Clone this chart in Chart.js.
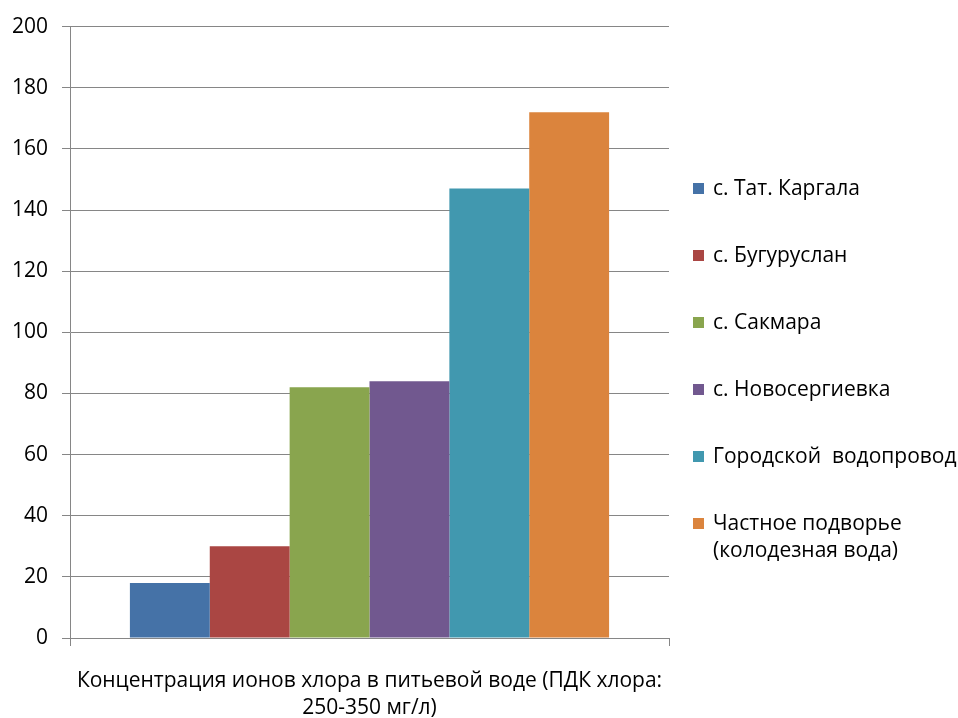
<!DOCTYPE html>
<html>
<head>
<meta charset="utf-8">
<script src="https://cdn.jsdelivr.net/npm/chart.js@4"></script>
<style>
  html, body { margin: 0; padding: 0; background: #fff; }
  #wrap { position: relative; width: 958px; height: 718px; }
  #legend { position: absolute; left: 693px; top: 174px; font-family: "Open Sans", sans-serif; font-size: 21px; color: #000; }
  .item { display: flex; align-items: flex-start; height: 67px; line-height: 27px; }
  .box { width: 11px; height: 11px; margin-top: 9px; margin-right: 9px; flex: none; }
</style>
</head>
<body>
<div id="wrap">
  <canvas id="chart" width="958" height="718"></canvas>
  <div id="legend"></div>
</div>
<script>
const categories = [['Концентрация ионов хлора в питьевой воде (ПДК хлора:', '250-350 мг/л)']];
const seriesNames = [
  'с. Тат. Каргала',
  'с. Бугуруслан',
  'с. Сакмара',
  'с. Новосергиевка',
  'Городской  водопровод',
  'Частное подворье\n(колодезная вода)'
];
const seriesValues = [18, 30, 82, 84, 147, 172];
const seriesColors = ['#4572A7', '#AA4643', '#89A54E', '#71588F', '#4198AF', '#DB843D'];
const yTicks = [0, 20, 40, 60, 80, 100, 120, 140, 160, 180, 200];

const fontFamily = '"Open Sans", sans-serif';

const datasets = seriesNames.map((name, i) => ({
  label: name,
  data: [seriesValues[i]],
  backgroundColor: seriesColors[i],
  borderWidth: 0,
  categoryPercentage: 0.8,
  barPercentage: 1.0
}));

new Chart(document.getElementById('chart'), {
  type: 'bar',
  data: { labels: categories, datasets: datasets },
  options: {
    responsive: false,
    animation: false,
    layout: { padding: { left: 0, right: 289, top: 25, bottom: 0 } },
    plugins: { legend: { display: false }, tooltip: { enabled: false } },
    scales: {
      x: {
        afterFit: (scale) => { scale.height = 80; },
        grid: { display: true, drawOnChartArea: false, color: '#868686', tickLength: 8 },
        border: { color: '#868686' },
        ticks: {
          color: '#000',
          padding: 21,
          maxRotation: 0,
          font: { family: fontFamily, size: 21, lineHeight: 1.3 }
        }
      },
      y: {
        min: 0,
        max: 200,
        afterFit: (scale) => { scale.width = 70; },
        afterBuildTicks: (scale) => { scale.ticks = yTicks.map(v => ({ value: v })); },
        grid: { color: '#868686', tickLength: 8 },
        border: { color: '#868686' },
        ticks: {
          color: '#000',
          padding: 14,
          font: { family: fontFamily, size: 21 }
        }
      }
    }
  }
});

// legend built from the same series arrays
const legend = document.getElementById('legend');
seriesNames.forEach((name, i) => {
  const item = document.createElement('div');
  item.className = 'item';
  const box = document.createElement('div');
  box.className = 'box';
  box.style.background = seriesColors[i];
  const text = document.createElement('div');
  text.style.whiteSpace = 'pre';
  text.textContent = name;
  item.appendChild(box);
  item.appendChild(text);
  legend.appendChild(item);
});
</script>
</body>
</html>
